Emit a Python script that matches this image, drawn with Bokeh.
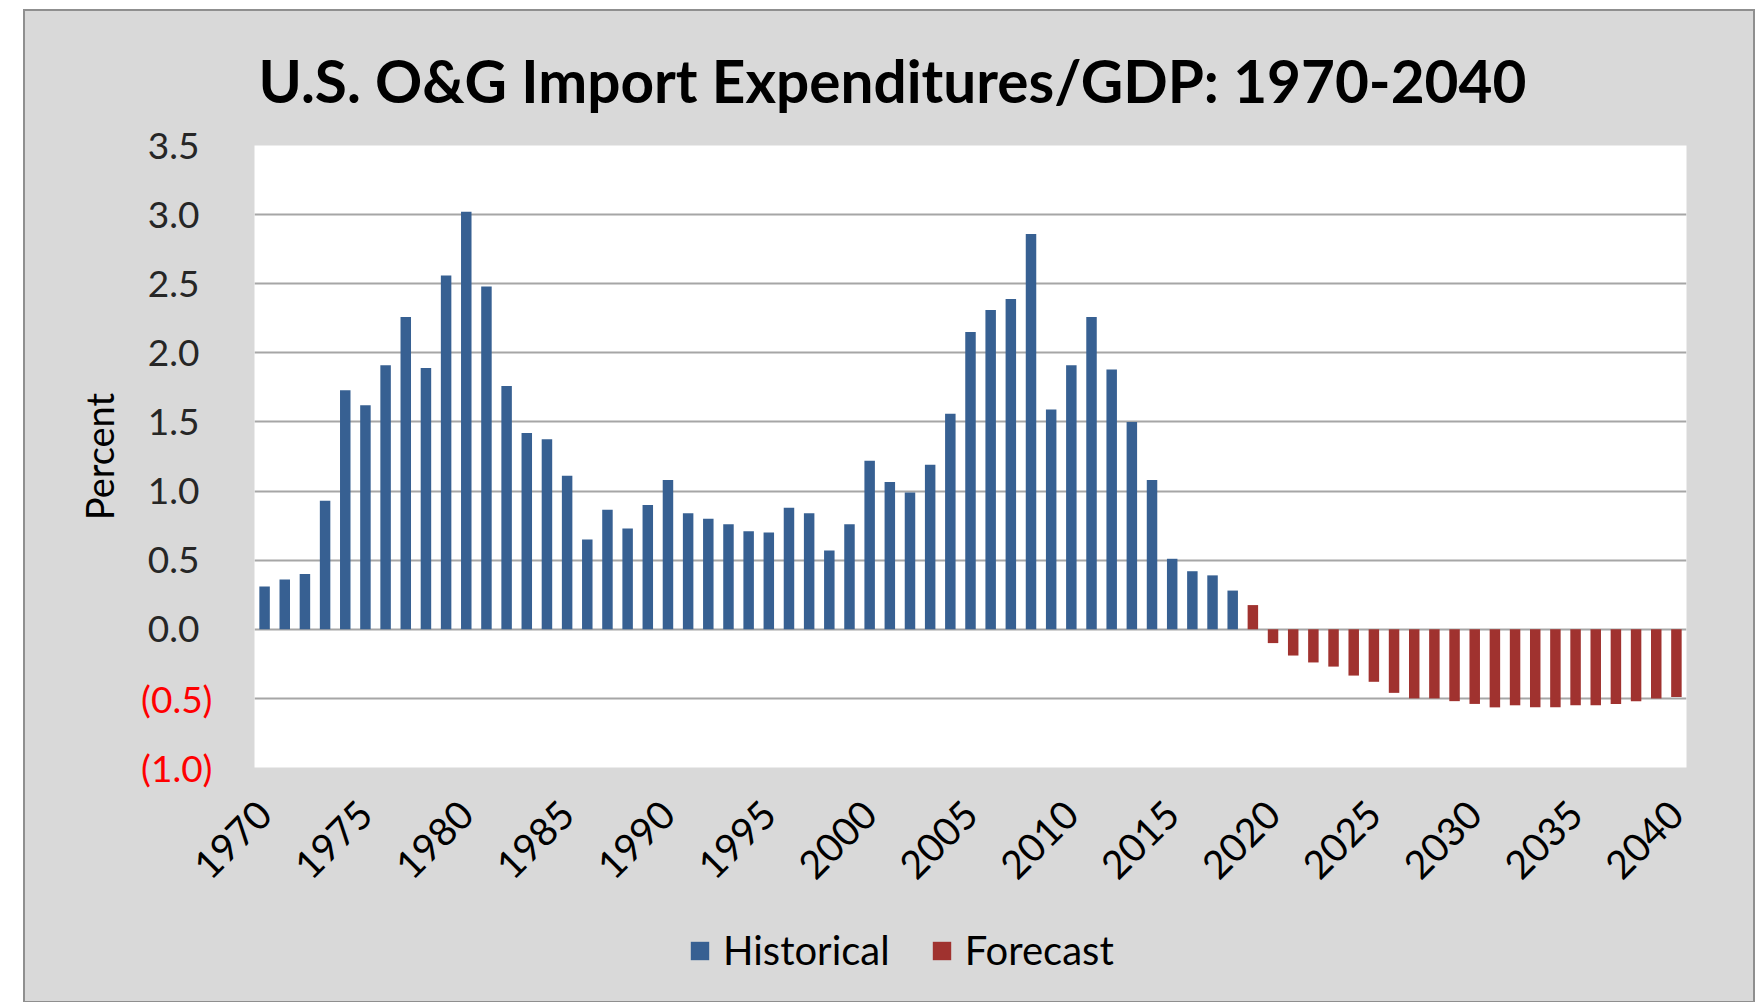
import math
from bokeh.plotting import figure
from bokeh.models import (Range1d, FixedTicker, Legend, LegendItem, Spacer,
                          Title, ColumnDataSource, LinearAxis)
from bokeh.layouts import row, column
from bokeh.embed import file_html
from bokeh.resources import INLINE

# ---------------- data ----------------
title_text = "U.S. O&G Import Expenditures/GDP: 1970-2040"
y_axis_title = "Percent"

hist_years = list(range(1970, 2019))
hist_values = [0.31, 0.36, 0.40, 0.93, 1.73, 1.62, 1.91, 2.26, 1.89, 2.56,
               3.02, 2.48, 1.76, 1.42, 1.375, 1.11, 0.65, 0.865, 0.73, 0.90,
               1.08, 0.84, 0.80, 0.76, 0.71, 0.70, 0.88, 0.84, 0.57, 0.76,
               1.22, 1.065, 0.99, 1.19, 1.56, 2.15, 2.31, 2.39, 2.86, 1.59,
               1.91, 2.26, 1.88, 1.50, 1.08, 0.51, 0.42, 0.39, 0.28]

fcst_years = list(range(2019, 2041))
fcst_values = [0.175, -0.10, -0.19, -0.24, -0.27, -0.335, -0.38, -0.46, -0.50, -0.50,
               -0.52, -0.54, -0.565, -0.55, -0.565, -0.565, -0.55, -0.55, -0.54, -0.52,
               -0.50, -0.49]

series_names = ["Historical", "Forecast"]

x_ticks = [1970, 1975, 1980, 1985, 1990, 1995, 2000, 2005, 2010, 2015, 2020, 2025, 2030, 2035, 2040]
x_tick_labels = ["1970", "1975", "1980", "1985", "1990", "1995", "2000", "2005",
                 "2010", "2015", "2020", "2025", "2030", "2035", "2040"]

y_ticks = [-1.0, -0.5, 0.0, 0.5, 1.0, 1.5, 2.0, 2.5, 3.0, 3.5]
y_tick_labels = ["(1.0)", "(0.5)", "0.0", "0.5", "1.0", "1.5", "2.0", "2.5", "3.0", "3.5"]

# ---------------- style ----------------
FONT = "Lato"
BLUE = "#376092"
RED = "#a0322f"
PANEL_BG = "#d9d9d9"
GRID = "#a6a6a6"
W = 1728

p = figure(width=W, height=900,
           x_range=Range1d(1969.5, 2040.5), y_range=Range1d(-1.0, 3.5),
           output_backend="svg", toolbar_location=None,
           min_border_left=229, min_border_right=67,
           min_border_top=133, min_border_bottom=144)
p.border_fill_alpha = 0
p.background_fill_color = "white"
p.outline_line_color = None

p.add_layout(Title(text=title_text, align="left", offset=4, standoff=62,
                   text_font=FONT, text_font_size="58.5px", text_font_style="bold",
                   text_color="black"), "above")

src_h = ColumnDataSource(dict(x=hist_years, top=hist_values))
src_f = ColumnDataSource(dict(x=fcst_years, top=fcst_values))
r1 = p.vbar(x="x", top="top", bottom=0, width=0.52, source=src_h,
            fill_color=BLUE, line_color=None)
r2 = p.vbar(x="x", top="top", bottom=0, width=0.52, source=src_f,
            fill_color=RED, line_color=None)

# x axis
xa = p.xaxis[0]
xa.ticker = FixedTicker(ticks=x_ticks)
xa.major_label_overrides = {t: l for t, l in zip(x_ticks, x_tick_labels)}
xa.major_label_orientation = math.pi / 4
xa.major_label_text_font = FONT
xa.major_label_text_font_size = "39px"
xa.major_label_text_color = "black"
xa.major_label_standoff = 34
xa.axis_line_color = None
xa.major_tick_line_color = None
xa.minor_tick_line_color = None

# inner y axis: non-negative labels in black
ya = p.yaxis[0]
ya.ticker = FixedTicker(ticks=y_ticks)
ya.major_label_overrides = {t: (l if t >= 0 else "") for t, l in zip(y_ticks, y_tick_labels)}
ya.major_label_text_font = FONT
ya.major_label_text_font_size = "37px"
ya.major_label_text_color = "#262626"
ya.major_label_standoff = 49
ya.axis_line_color = None
ya.major_tick_line_color = None
ya.minor_tick_line_color = None

# outer y axis: negative labels in red, pulled back over the inner one
yneg = LinearAxis(ticker=FixedTicker(ticks=[t for t in y_ticks if t < 0]))
yneg.major_label_overrides = {t: l for t, l in zip(y_ticks, y_tick_labels) if t < 0}
yneg.major_label_text_font = FONT
yneg.major_label_text_font_size = "37px"
yneg.major_label_text_color = "#ff0000"
yneg.major_label_standoff = -74
yneg.axis_line_color = None
yneg.major_tick_line_color = None
yneg.minor_tick_line_color = None
yneg.axis_label = y_axis_title
yneg.axis_label_text_font = FONT
yneg.axis_label_text_font_size = "38px"
yneg.axis_label_text_font_style = "normal"
yneg.axis_label_text_color = "black"
yneg.axis_label_standoff = 16
p.add_layout(yneg, "left")

p.xgrid.visible = False
p.ygrid.grid_line_color = GRID
p.ygrid.grid_line_width = 2

# legend strip below the chart (transparent, over the grey panel)
pl = figure(width=W, height=90, x_range=Range1d(1969.5, 2040.5), y_range=Range1d(10, 11),
            output_backend="svg", toolbar_location=None,
            x_axis_type=None, y_axis_type=None, min_border=0)
pl.background_fill_alpha = 0
pl.border_fill_alpha = 0
pl.outline_line_color = None
pl.grid.visible = False
# proxy renderers (below the strip's visible range) that carry the legend swatches
lr1 = pl.vbar(x=hist_years, top=hist_values, bottom=0, width=0.52, fill_color=BLUE, line_color=None)
lr2 = pl.vbar(x=fcst_years, top=fcst_values, bottom=0, width=0.52, fill_color=RED, line_color=None)
legend = Legend(items=[LegendItem(label=series_names[0], renderers=[lr1]),
                       LegendItem(label=series_names[1], renderers=[lr2])],
                orientation="horizontal", location=(434, 27),
                label_text_font=FONT, label_text_font_size="40px",
                label_text_color="black", label_height=46,
                glyph_width=23, glyph_height=23, label_standoff=12, spacing=40,
                padding=0, margin=0, border_line_alpha=0, background_fill_alpha=0)
pl.add_layout(legend, "center")

chart = column(p, pl, spacing=0,
               styles={"outline": "2px solid #8f8f8f", "background-color": PANEL_BG})
layout = column(Spacer(height=11), row(Spacer(width=25), chart))
open("out.html", "w").write(file_html(layout, INLINE))
